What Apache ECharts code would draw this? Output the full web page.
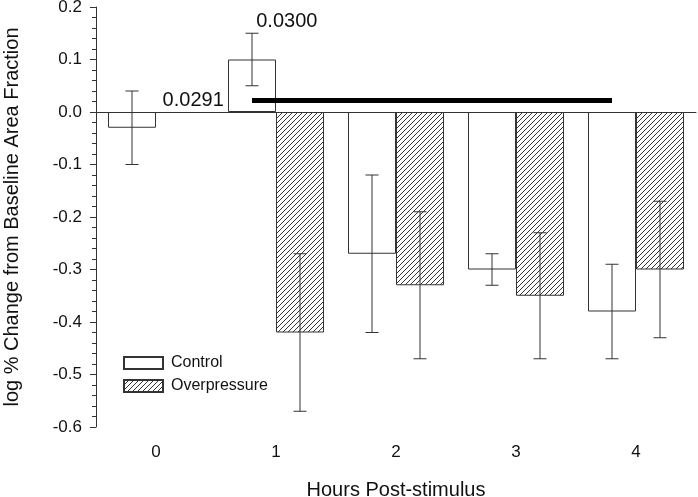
<!DOCTYPE html>
<html>
<head>
<meta charset="utf-8">
<script src="https://cdn.jsdelivr.net/npm/echarts@6/dist/echarts.min.js"></script>
<style>
html, body { margin: 0; padding: 0; background: #fff; }
#chart { width: 698px; height: 497px; }
</style>
</head>
<body>
<div id="chart"></div>
<script>
// data
var hours = ["0", "1", "2", "3", "4"];
var controlMean = [-0.03, 0.10, -0.27, -0.30, -0.38];
var controlHigh = [0.04, 0.15, -0.12, -0.27, -0.29];
var controlLow = [-0.10, 0.05, -0.42, -0.33, -0.47];
var overMean = [null, -0.42, -0.33, -0.35, -0.30];
var overHigh = [null, -0.27, -0.19, -0.23, -0.17];
var overLow = [null, -0.57, -0.47, -0.47, -0.43];
var sigSpan = [0.8, 3.8]; // hours covered by the significance bar
var sigLevel = 0.022;
var pLabels = ["0.0291", "0.0300"];

var FONT = "Liberation Sans, Arial, sans-serif";
var INK = "#333";

// diagonal hatch for the overpressure bars
var tile = document.createElement("canvas");
tile.width = 5;
tile.height = 5;
var ctx = tile.getContext("2d");
ctx.fillStyle = "#fff";
ctx.fillRect(0, 0, 5, 5);
ctx.strokeStyle = INK;
ctx.lineWidth = 1;
ctx.beginPath();
ctx.moveTo(0, 5); ctx.lineTo(5, 0);
ctx.moveTo(-1, 1); ctx.lineTo(1, -1);
ctx.moveTo(4, 6); ctx.lineTo(6, 4);
ctx.stroke();
var hatch = { image: tile, repeat: "repeat" };

function errorBars(low, high, offset) {
	var data = [];
	hours.forEach(function (h, i) {
		if (high[i] != null) data.push([i, high[i], low[i]]);
	});
	return {
		type: "custom",
		silent: true,
		z: 5,
		encode: { x: 0, y: [1, 2] },
		data: data,
		renderItem: function (params, api) {
			var i = api.value(0);
			var band = api.size([1, 0])[0];
			var x = api.coord([i, 0])[0] + offset * band;
			var yh = api.coord([i, api.value(1)])[1];
			var yl = api.coord([i, api.value(2)])[1];
			var st = { stroke: INK, lineWidth: 1 };
			return {
				type: "group",
				children: [
					{ type: "line", shape: { x1: x, y1: yh, x2: x, y2: yl }, style: st },
					{ type: "line", shape: { x1: x - 6.5, y1: yh, x2: x + 6.5, y2: yh }, style: st },
					{ type: "line", shape: { x1: x - 6.5, y1: yl, x2: x + 6.5, y2: yl }, style: st }
				]
			};
		}
	};
}

var myChart = echarts.init(document.getElementById("chart"));
myChart.setOption({
	animation: false,
	textStyle: { fontFamily: FONT },
	grid: { left: 96, right: 2, top: 7, bottom: 70, outerBoundsMode: "none", containLabel: false },
	legend: {
		orient: "vertical",
		left: 123,
		top: 355,
		padding: 0,
		itemWidth: 39,
		itemHeight: 12,
		itemGap: 7,
		selectedMode: false,
		textStyle: { fontSize: 16, color: "#111", fontFamily: FONT, padding: [0, 0, 0, 3] },
		data: [
			{ name: "Control", icon: "rect" },
			{ name: "Overpressure", icon: "rect" }
		]
	},
	xAxis: {
		type: "category",
		data: hours,
		name: "Hours Post-stimulus",
		nameLocation: "middle",
		nameGap: 53,
		nameTextStyle: { fontSize: 20, color: "#111", fontFamily: FONT },
		axisLine: { lineStyle: { color: INK } },
		axisTick: { alignWithLabel: true, length: 5, lineStyle: { color: INK } },
		axisLabel: { fontSize: 17, color: "#111", margin: 17, fontFamily: FONT },
		splitLine: { show: false }
	},
	yAxis: {
		type: "value",
		min: -0.6,
		max: 0.2,
		interval: 0.1,
		name: "log % Change from Baseline Area Fraction",
		nameLocation: "middle",
		nameGap: 74,
		nameRotate: 90,
		nameTextStyle: { fontSize: 20, color: "#111", fontFamily: FONT },
		axisLine: { show: true, lineStyle: { color: INK } },
		axisTick: { show: true, length: 6, lineStyle: { color: INK } },
		minorTick: { show: true, splitNumber: 5, length: 4, lineStyle: { color: INK } },
		axisLabel: {
			fontSize: 17,
			color: "#111",
			margin: 14,
			fontFamily: FONT,
			formatter: function (v) { return v.toFixed(1); }
		},
		splitLine: { show: false }
	},
	series: [
		{
			name: "Control",
			type: "bar",
			data: controlMean,
			barGap: "0%",
			barCategoryGap: "20%",
			itemStyle: { color: "#fff", borderColor: INK, borderWidth: 1 },
			markLine: {
				silent: true,
				symbol: "none",
				label: { show: false },
				lineStyle: { color: INK, width: 1, type: "solid" },
				data: [{ yAxis: 0 }]
			}
		},
		{
			name: "Overpressure",
			type: "bar",
			data: overMean,
			barGap: "0%",
			barCategoryGap: "20%",
			itemStyle: { color: hatch, borderColor: INK, borderWidth: 1 }
		},
		errorBars(controlLow, controlHigh, -0.2),
		errorBars(overLow, overHigh, 0.2),
		{
			// significance bar
			type: "custom",
			silent: true,
			z: 6,
			encode: { x: 0, y: 1 },
			data: [[0, sigLevel, sigSpan[0], sigSpan[1]]],
			renderItem: function (params, api) {
				var band = api.size([1, 0])[0];
				var p = api.coord([0, api.value(1)]);
				return {
					type: "line",
					shape: { x1: p[0] + api.value(2) * band, y1: p[1], x2: p[0] + api.value(3) * band, y2: p[1] },
					style: { stroke: "#000", lineWidth: 5 }
				};
			}
		},
		{
			// p-value annotations
			type: "custom",
			silent: true,
			z: 6,
			encode: { x: 0, y: 1 },
			data: [[0, 0.022, 0.31], [0, 0.172, 1.09]],
			renderItem: function (params, api) {
				var band = api.size([1, 0])[0];
				var p = api.coord([0, api.value(1)]);
				return {
					type: "text",
					style: {
						x: p[0] + api.value(2) * band,
						y: p[1],
						text: pLabels[params.dataIndex],
						fill: "#111",
						font: "20px " + FONT,
						align: "center",
						verticalAlign: "middle"
					}
				};
			}
		}
	]
});
</script>
</body>
</html>
